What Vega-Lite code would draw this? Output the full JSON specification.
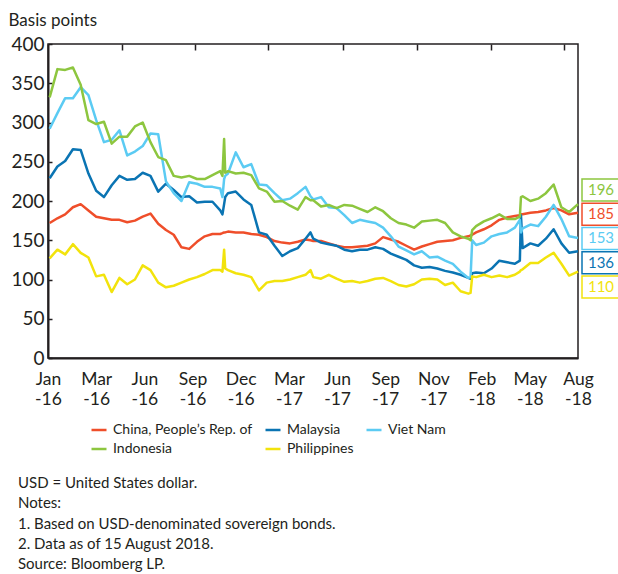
{
  "$schema": "https://vega.github.io/schema/vega-lite/v6.json",
  "width": 530,
  "height": 314,
  "autosize": {"type": "none"},
  "padding": {"left": 48, "top": 44, "right": 40, "bottom": 216},
  "background": "white",
  "config": {
    "font": "Lato",
    "view": {"stroke": "#231f20", "strokeWidth": 1.5},
    "axis": {"domainColor": "#231f20", "domainWidth": 2, "tickColor": "#231f20", "labelColor": "#231f20", "titleColor": "#231f20", "grid": false, "labelFont": "Lato", "titleFont": "Lato"},
    "legend": {"labelFont": "Lato"},
    "title": {"font": "Lato"}
  },
  "title": {
    "text": ["USD = United States dollar.", "Notes:", "1.  Based on USD-denominated sovereign bonds.", "2. Data as of 15 August 2018.", "Source: Bloomberg LP."],
    "orient": "bottom",
    "anchor": "start",
    "frame": "group",
    "dx": -30,
    "offset": 20,
    "fontSize": 15,
    "fontWeight": "normal",
    "lineHeight": 20.3,
    "color": "#231f20"
  },
  "layer": [
    {
      "data": {"values": [
        {"d": "2016-01-04", "cn": 172, "my": 229, "vn": 292, "id": 332, "ph": 127},
        {"d": "2016-01-18", "cn": 178, "my": 244, "vn": 312, "id": 368, "ph": 138},
        {"d": "2016-02-01", "cn": 183, "my": 251, "vn": 331, "id": 367, "ph": 132},
        {"d": "2016-02-15", "cn": 192, "my": 266, "vn": 331, "id": 370, "ph": 145},
        {"d": "2016-02-29", "cn": 196, "my": 265, "vn": 345, "id": 348, "ph": 134},
        {"d": "2016-03-14", "cn": 188, "my": 235, "vn": 335, "id": 303, "ph": 128},
        {"d": "2016-03-28", "cn": 180, "my": 213, "vn": 303, "id": 298, "ph": 104},
        {"d": "2016-04-11", "cn": 178, "my": 205, "vn": 275, "id": 301, "ph": 106},
        {"d": "2016-04-25", "cn": 176, "my": 220, "vn": 278, "id": 273, "ph": 84},
        {"d": "2016-05-09", "cn": 176, "my": 232, "vn": 290, "id": 282, "ph": 102},
        {"d": "2016-05-23", "cn": 173, "my": 227, "vn": 258, "id": 282, "ph": 94},
        {"d": "2016-06-06", "cn": 175, "my": 228, "vn": 263, "id": 295, "ph": 100},
        {"d": "2016-06-20", "cn": 180, "my": 236, "vn": 270, "id": 300, "ph": 118},
        {"d": "2016-07-04", "cn": 184, "my": 232, "vn": 286, "id": 275, "ph": 112},
        {"d": "2016-07-18", "cn": 171, "my": 212, "vn": 285, "id": 256, "ph": 96},
        {"d": "2016-08-01", "cn": 163, "my": 222, "vn": 225, "id": 252, "ph": 90},
        {"d": "2016-08-15", "cn": 157, "my": 214, "vn": 210, "id": 232, "ph": 92},
        {"d": "2016-08-29", "cn": 141, "my": 205, "vn": 200, "id": 230, "ph": 96},
        {"d": "2016-09-12", "cn": 139, "my": 206, "vn": 224, "id": 232, "ph": 100},
        {"d": "2016-09-26", "cn": 148, "my": 198, "vn": 222, "id": 228, "ph": 103},
        {"d": "2016-10-10", "cn": 155, "my": 199, "vn": 218, "id": 228, "ph": 107},
        {"d": "2016-10-24", "cn": 158, "my": 199, "vn": 218, "id": 233, "ph": 112},
        {"d": "2016-11-07", "cn": 158, "my": 188, "vn": 216, "id": 238, "ph": 112},
        {"d": "2016-11-11", "cn": 159, "my": 183, "vn": 205, "id": 232, "ph": 110},
        {"d": "2016-11-14", "cn": 160, "my": 196, "vn": 228, "id": 279, "ph": 138},
        {"d": "2016-11-16", "cn": 160, "my": 205, "vn": 232, "id": 236, "ph": 114},
        {"d": "2016-11-21", "cn": 161, "my": 210, "vn": 235, "id": 238, "ph": 112},
        {"d": "2016-12-05", "cn": 160, "my": 212, "vn": 262, "id": 235, "ph": 108},
        {"d": "2016-12-19", "cn": 160, "my": 202, "vn": 243, "id": 236, "ph": 106},
        {"d": "2017-01-02", "cn": 158, "my": 195, "vn": 247, "id": 233, "ph": 103},
        {"d": "2017-01-16", "cn": 157, "my": 160, "vn": 221, "id": 216, "ph": 86},
        {"d": "2017-01-30", "cn": 154, "my": 157, "vn": 220, "id": 212, "ph": 96},
        {"d": "2017-02-13", "cn": 149, "my": 143, "vn": 210, "id": 199, "ph": 98},
        {"d": "2017-02-27", "cn": 147, "my": 130, "vn": 201, "id": 200, "ph": 98},
        {"d": "2017-03-13", "cn": 146, "my": 136, "vn": 203, "id": 194, "ph": 100},
        {"d": "2017-03-27", "cn": 148, "my": 140, "vn": 210, "id": 189, "ph": 103},
        {"d": "2017-04-10", "cn": 151, "my": 152, "vn": 218, "id": 205, "ph": 106},
        {"d": "2017-04-19", "cn": 150, "my": 160, "vn": 206, "id": 201, "ph": 112},
        {"d": "2017-04-24", "cn": 149, "my": 152, "vn": 202, "id": 201, "ph": 103},
        {"d": "2017-05-08", "cn": 149, "my": 147, "vn": 205, "id": 193, "ph": 101},
        {"d": "2017-05-22", "cn": 146, "my": 145, "vn": 192, "id": 195, "ph": 106},
        {"d": "2017-06-05", "cn": 143, "my": 143, "vn": 191, "id": 191, "ph": 101},
        {"d": "2017-06-19", "cn": 141, "my": 138, "vn": 182, "id": 195, "ph": 97},
        {"d": "2017-07-03", "cn": 141, "my": 136, "vn": 172, "id": 194, "ph": 98},
        {"d": "2017-07-17", "cn": 142, "my": 138, "vn": 176, "id": 190, "ph": 96},
        {"d": "2017-07-31", "cn": 143, "my": 138, "vn": 174, "id": 186, "ph": 98},
        {"d": "2017-08-14", "cn": 146, "my": 141, "vn": 172, "id": 192, "ph": 101},
        {"d": "2017-08-28", "cn": 154, "my": 139, "vn": 166, "id": 187, "ph": 102},
        {"d": "2017-09-11", "cn": 151, "my": 133, "vn": 155, "id": 178, "ph": 98},
        {"d": "2017-09-25", "cn": 148, "my": 129, "vn": 142, "id": 172, "ph": 93},
        {"d": "2017-10-09", "cn": 143, "my": 125, "vn": 137, "id": 170, "ph": 91},
        {"d": "2017-10-23", "cn": 138, "my": 118, "vn": 132, "id": 166, "ph": 94},
        {"d": "2017-11-06", "cn": 142, "my": 115, "vn": 136, "id": 174, "ph": 100},
        {"d": "2017-11-20", "cn": 145, "my": 116, "vn": 128, "id": 175, "ph": 101},
        {"d": "2017-12-04", "cn": 148, "my": 114, "vn": 129, "id": 176, "ph": 100},
        {"d": "2017-12-18", "cn": 149, "my": 111, "vn": 124, "id": 172, "ph": 93},
        {"d": "2018-01-01", "cn": 150, "my": 109, "vn": 120, "id": 160, "ph": 96},
        {"d": "2018-01-15", "cn": 153, "my": 106, "vn": 110, "id": 155, "ph": 85},
        {"d": "2018-01-29", "cn": 155, "my": 102, "vn": 102, "id": 152, "ph": 82},
        {"d": "2018-02-02", "cn": 156, "my": 101, "vn": 103, "id": 150, "ph": 83},
        {"d": "2018-02-05", "cn": 157, "my": 108, "vn": 150, "id": 163, "ph": 104},
        {"d": "2018-02-12", "cn": 160, "my": 109, "vn": 144, "id": 168, "ph": 103},
        {"d": "2018-02-26", "cn": 164, "my": 108, "vn": 147, "id": 174, "ph": 106},
        {"d": "2018-03-12", "cn": 169, "my": 114, "vn": 155, "id": 178, "ph": 103},
        {"d": "2018-03-26", "cn": 176, "my": 124, "vn": 158, "id": 183, "ph": 105},
        {"d": "2018-04-09", "cn": 179, "my": 122, "vn": 160, "id": 177, "ph": 103},
        {"d": "2018-04-23", "cn": 181, "my": 120, "vn": 166, "id": 177, "ph": 106},
        {"d": "2018-05-02", "cn": 182, "my": 124, "vn": 176, "id": 180, "ph": 110},
        {"d": "2018-05-04", "cn": 183, "my": 182, "vn": 160, "id": 205, "ph": 112},
        {"d": "2018-05-07", "cn": 183, "my": 140, "vn": 165, "id": 206, "ph": 113},
        {"d": "2018-05-21", "cn": 185, "my": 146, "vn": 170, "id": 200, "ph": 121},
        {"d": "2018-06-04", "cn": 186, "my": 143, "vn": 168, "id": 203, "ph": 121},
        {"d": "2018-06-18", "cn": 188, "my": 152, "vn": 180, "id": 210, "ph": 128},
        {"d": "2018-07-02", "cn": 191, "my": 164, "vn": 195, "id": 221, "ph": 134},
        {"d": "2018-07-16", "cn": 188, "my": 146, "vn": 177, "id": 192, "ph": 120},
        {"d": "2018-07-30", "cn": 183, "my": 134, "vn": 155, "id": 186, "ph": 105},
        {"d": "2018-08-15", "cn": 185, "my": 136, "vn": 153, "id": 196, "ph": 110}
      ]},
      "transform": [{"fold": ["cn", "my", "vn", "id", "ph"], "as": ["country", "value"]}],
      "mark": {"type": "line", "strokeWidth": 2.5, "strokeJoin": "round"},
      "encoding": {
        "x": {
          "field": "d", "type": "temporal",
          "scale": {"type": "utc", "domain": [{"year": 2016, "month": 1, "date": 1, "utc": true}, {"year": 2018, "month": 8, "date": 15, "utc": true}]},
          "axis": {
            "title": null, "ticks": false, "domain": true,
            "values": [
              {"year": 2016, "month": 1, "date": 1, "utc": true},
              {"year": 2016, "month": 3, "date": 28, "utc": true},
              {"year": 2016, "month": 6, "date": 23, "utc": true},
              {"year": 2016, "month": 9, "date": 18, "utc": true},
              {"year": 2016, "month": 12, "date": 14, "utc": true},
              {"year": 2017, "month": 3, "date": 11, "utc": true},
              {"year": 2017, "month": 6, "date": 6, "utc": true},
              {"year": 2017, "month": 9, "date": 1, "utc": true},
              {"year": 2017, "month": 11, "date": 27, "utc": true},
              {"year": 2018, "month": 2, "date": 22, "utc": true},
              {"year": 2018, "month": 5, "date": 20, "utc": true},
              {"year": 2018, "month": 8, "date": 15, "utc": true}
            ],
            "labelExpr": "[utcFormat(datum.value, '%b'), '-' + utcFormat(datum.value, '%y')]",
            "labelFontSize": 17.5, "labelLineHeight": 20, "labelPadding": 12,
            "labelFlush": false, "labelOverlap": false, "labelBound": false
          }
        },
        "y": {
          "field": "value", "type": "quantitative",
          "scale": {"domain": [0, 400], "nice": false},
          "axis": {
            "values": [0, 50, 100, 150, 200, 250, 300, 350, 400],
            "tickSize": -4, "tickWidth": 1.5,
            "labelFontSize": 19, "labelPadding": 8,
            "title": "Basis points", "titleAngle": 0, "titleAlign": "left", "titleBaseline": "alphabetic",
            "titleX": -40, "titleY": -19, "titleFontSize": 17, "titleFontWeight": "normal"
          }
        },
        "color": {
          "field": "country", "type": "nominal",
          "scale": {"domain": ["cn", "my", "vn", "id", "ph"], "range": ["#EF4E2A", "#0A74B3", "#5BCBF3", "#8DC63F", "#F2E30C"]},
          "legend": {
            "orient": "none", "legendX": 42, "legendY": 377, "columns": 3, "direction": "horizontal",
            "title": null, "padding": 0, "symbolType": "stroke", "symbolStrokeWidth": 2.5, "symbolSize": 225,
            "labelFontSize": 14, "labelColor": "#231f20", "columnPadding": 7, "rowPadding": 3, "labelOffset": 5,
            "labelExpr": "datum.label == 'cn' ? 'China, People’s Rep. of' : datum.label == 'my' ? 'Malaysia' : datum.label == 'vn' ? 'Viet Nam' : datum.label == 'id' ? 'Indonesia' : 'Philippines'"
          }
        }
      }
    },
    {
      "data": {"values": [
        {"country": "id", "d": "2018-08-15", "value": 196},
        {"country": "cn", "d": "2018-08-15", "value": 185},
        {"country": "vn", "d": "2018-08-15", "value": 153},
        {"country": "my", "d": "2018-08-15", "value": 136},
        {"country": "ph", "d": "2018-08-15", "value": 110}
      ]},
      "transform": [{"window": [{"op": "rank", "as": "rank"}], "sort": [{"field": "value", "order": "descending"}]}],
      "encoding": {
        "x": {
          "field": "d", "type": "temporal",
          "axis": {
            "title": null, "labels": false, "domain": false, "ticks": true, "tickSize": -6, "tickWidth": 1.5,
            "values": [
              {"year": 2016, "month": 5, "date": 14, "utc": true},
              {"year": 2016, "month": 9, "date": 23, "utc": true},
              {"year": 2017, "month": 2, "date": 2, "utc": true},
              {"year": 2017, "month": 6, "date": 16, "utc": true},
              {"year": 2017, "month": 10, "date": 28, "utc": true},
              {"year": 2018, "month": 3, "date": 11, "utc": true},
              {"year": 2018, "month": 7, "date": 21, "utc": true}
            ]
          }
        },
        "y": {"field": "rank", "type": "quantitative", "scale": {"domain": [-5.02, 7.93], "reverse": true, "nice": false, "zero": false}, "axis": null}
      },
      "layer": [
        {
          "mark": {"type": "point", "shape": "M-1,-0.58H1V0.58H-1Z", "size": 1444, "filled": true, "fill": "white", "opacity": 1, "strokeWidth": 1.5, "xOffset": 23, "clip": false},
          "encoding": {
            "stroke": {"field": "country", "type": "nominal", "scale": {"domain": ["cn", "my", "vn", "id", "ph"], "range": ["#EF4E2A", "#0A74B3", "#5BCBF3", "#8DC63F", "#F2E30C"]}, "legend": null}
          }
        },
        {
          "mark": {"type": "text", "fontSize": 15, "xOffset": 23, "baseline": "middle", "align": "center"},
          "encoding": {
            "text": {"field": "value", "type": "quantitative"},
            "color": {"field": "country", "type": "nominal", "legend": null}
          }
        }
      ]
    }
  ],
  "resolve": {"scale": {"y": "independent"}, "axis": {"x": "independent"}}
}
